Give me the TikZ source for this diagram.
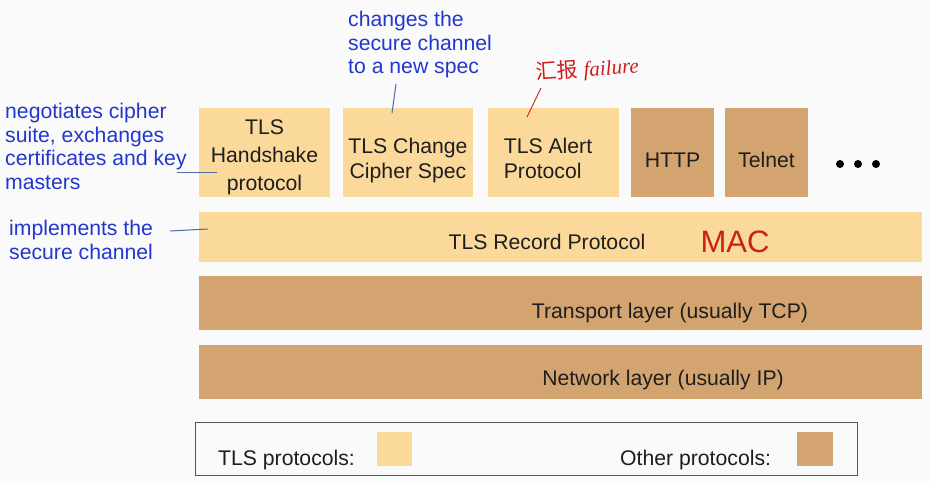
\documentclass[tikz,border=0pt]{standalone}
\usepackage{fontspec}
\setmainfont{Liberation Sans}
\newfontfamily\cjkfont{Noto Sans CJK SC}
\newfontfamily\handfont{Liberation Serif}
\definecolor{tlsc}{RGB}{250,217,155}
\definecolor{othc}{RGB}{212,164,112}
\definecolor{annb}{RGB}{35,55,205}
\definecolor{lineb}{RGB}{80,105,170}
\definecolor{redh}{RGB}{205,30,30}
\definecolor{bgc}{RGB}{250,250,250}
\definecolor{txt}{RGB}{30,30,30}
\begin{document}
\begin{tikzpicture}[x=1pt,y=-1pt,
  font=\fontsize{21.2}{25}\selectfont,
  tlsbox/.style={fill=tlsc, draw=none, inner sep=0pt},
  othbox/.style={fill=othc, draw=none, inner sep=0pt},
  boxtext/.style={text=txt, align=center},
  anno/.style={text=annb, align=left, inner sep=0pt, font=\fontsize{21.2}{23.5}\selectfont},
  conn/.style={draw=lineb, line width=1pt},
  redline/.style={draw=redh, line width=0.9pt},
  redhand/.style={text=redh, inner sep=0pt}]
\fill[bgc] (0,0) rectangle (931,481);
\useasboundingbox (0,0) rectangle (931,481);

% top row
\node[tlsbox, minimum width=131pt, minimum height=89pt,
  label={[boxtext, font=\fontsize{21.2}{28}\selectfont, yshift=-5pt]center:TLS\\Handshake\\protocol}] (hs) at (264.5,152.5) {};
\node[tlsbox, minimum width=130pt, minimum height=89pt,
  label={[boxtext, yshift=-8pt]center:TLS Change\\Cipher Spec}] (ccs) at (408,152.5) {};
\node[tlsbox, minimum width=131pt, minimum height=89pt,
  label={[boxtext, align=left, xshift=-5.5pt, yshift=-6pt]center:TLS Alert\\Protocol}] (al) at (553.5,152.5) {};
\node[othbox, minimum width=83pt, minimum height=89pt,
  label={[boxtext, yshift=-7.5pt]center:HTTP}] (http) at (672.5,152.5) {};
\node[othbox, minimum width=83pt, minimum height=89pt,
  label={[boxtext, yshift=-7.5pt]center:Telnet}] (tel) at (766.5,152.5) {};
\foreach \i/\x in {1/840,2/858,3/876}
  \node[circle, fill=black, inner sep=0pt, minimum size=8pt] (dot\i) at (\x,164) {};

% layers
\node[tlsbox, minimum width=723pt, minimum height=50pt,
  label={[boxtext, xshift=-13.5pt, yshift=-5pt]center:TLS Record Protocol}] (rec) at (560.5,237) {};
\node[othbox, minimum width=723pt, minimum height=54pt,
  label={[boxtext, xshift=109.5pt, yshift=-10.5pt]center:Transport layer (usually TCP)}] (tr) at (560.5,303) {};
\node[othbox, minimum width=723pt, minimum height=54pt,
  label={[boxtext, xshift=102.5pt, yshift=-8pt]center:Network layer (usually IP)}] (nw) at (560.5,372) {};

% legend
\node[draw={rgb,255:red,85;green,85;blue,85}, line width=1pt, fill=bgc, minimum width=662pt, minimum height=53pt, inner sep=0pt] (leg) at (526,448.5) {};
\node[boxtext, anchor=base west, inner sep=0pt] (legt) at (218,465) {TLS protocols:};
\node[tlsbox, minimum width=35pt, minimum height=34pt] (legs1) at (394.5,449) {};
\node[boxtext, anchor=base west, inner sep=0pt] (lego) at (620,465) {Other protocols:};
\node[othbox, minimum width=36pt, minimum height=34pt] (legs2) at (815,449) {};

% annotations
\node[anno, anchor=north west] (a1) at (5,103) {negotiates cipher\\suite, exchanges\\certificates and key\\masters};
\node[anno, anchor=north west] (a2) at (348,11) {changes the\\secure channel\\to a new spec};
\node[anno, anchor=north west] (a3) at (9,220) {implements the\\secure channel};

\coordinate (c1a) at (177,173); \coordinate (c1b) at (217,173);
\coordinate (c2a) at (396,84);  \coordinate (c2b) at (392,113);
\coordinate (c3a) at (170,231); \coordinate (c3b) at (208,229);
\draw[conn] (c1a) -- (c1b);
\draw[conn] (c2a) -- (c2b);
\draw[conn] (c3a) -- (c3b);

% red handwriting
\node[redhand, anchor=base west, rotate=4] (fail) at (536,80) {{\cjkfont\fontsize{21}{21}\selectfont 汇报}\hspace{6pt}{\handfont\itshape\fontsize{21}{21}\selectfont failure}};
\coordinate (r1a) at (541,88); \coordinate (r1b) at (527,117);
\draw[redline] (r1a) -- (r1b);
\node[redhand, font=\fontsize{31}{31}\selectfont] (mac) at (735,242) {MAC};
\end{tikzpicture}
\end{document}
